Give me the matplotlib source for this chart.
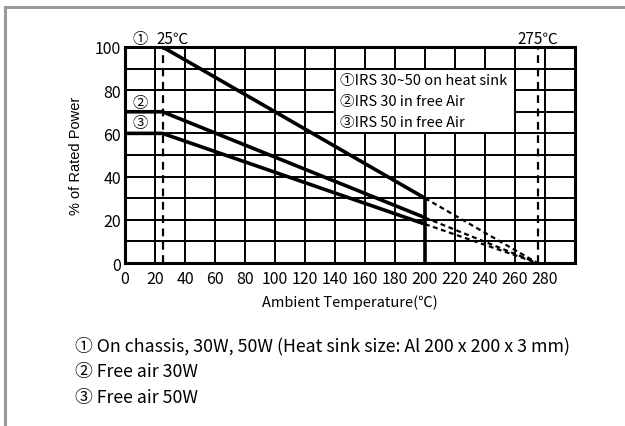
import matplotlib
matplotlib.use("Agg")
import matplotlib.pyplot as plt
from matplotlib.lines import Line2D
from matplotlib.patches import Rectangle

# ---- data ----
temp_knee = [0, 25, 200]
curve1 = [100, 100, 30]
curve2 = [70, 70, 21]
curve3 = [60, 60, 18]
temp_ext = [200, 275]
ext1 = [30, 0]
ext2 = [21, 0]
ext3 = [18, 0]
cutoff_temp = 200
marker_temps = [25, 275]
x_ticks = list(range(0, 281, 20))
y_ticks = [0, 20, 40, 60, 80, 100]
y_minor = [10, 30, 50, 70, 90]
legend_lines = ["①IRS 30~50 on heat sink", "②IRS 30 in free Air", "③IRS 50 in free Air"]
notes = ["① On chassis, 30W, 50W (Heat sink size: Al 200 x 200 x 3 mm)",
         "② Free air 30W",
         "③ Free air 50W"]

CJK = ['Noto Sans CJK KR', 'DejaVu Sans']

fig = plt.figure(figsize=(6.25, 4.27), dpi=100)
ax = fig.add_axes([0.2, 0.3817, 0.72, 0.506])
ax.set_xlim(0, 300)
ax.set_ylim(0, 100)
ax.set_xticks(x_ticks)
ax.set_yticks(y_ticks)
ax.set_yticks(y_minor, minor=True)
ax.tick_params(which='both', length=0)
ax.tick_params(axis='x', pad=5)
ax.tick_params(axis='y', pad=3)
for lab in ax.get_xticklabels() + ax.get_yticklabels():
    lab.set_family(CJK)
    lab.set_fontsize(11.5)
ax.grid(True, which='both', color='black', linewidth=1.4, zorder=1)
ax.set_axisbelow(True)
for s in ax.spines.values():
    s.set_linewidth(2.2)
    s.set_zorder(5)

# legend box (white rectangle with grid-coloured edge)
ax.add_patch(Rectangle((140, 60), 120, 30, facecolor='white', edgecolor='black',
                       linewidth=1.4, zorder=2))
for i, t in enumerate(legend_lines):
    ax.text(143.5, 84.5 - i * 9.6, t, family=CJK, fontsize=10.5,
            va='center', ha='left', zorder=3)

# solid derating curves
for c in (curve1, curve2, curve3):
    ax.plot(temp_knee, c, color='black', linewidth=2.6, zorder=4, solid_capstyle='butt')
# dotted extensions
for e in (ext1, ext2, ext3):
    ax.plot(temp_ext, e, color='black', linewidth=1.6, linestyle=(0, (2.2, 1.6)), zorder=4)
ax.vlines(cutoff_temp, 0, curve1[-1], color='black', linewidth=2.6, zorder=4)
for t in marker_temps:
    ax.axvline(t, color='black', linewidth=1.6, linestyle=(0, (3.5, 2.5)), zorder=4)

# annotations
kw = dict(family=CJK, fontsize=11)
ax.text(10, 104, "①", ha='center', va='center', clip_on=False, **kw)
ax.text(21, 104, "25℃", ha='left', va='center', clip_on=False, **kw)
ax.text(275.5, 104, "275℃", ha='center', va='center', clip_on=False, **kw)
ax.text(10, 74.5, "②", ha='center', va='center', zorder=3, **kw)
ax.text(10, 65, "③", ha='center', va='center', zorder=3, **kw)

ax.set_xlabel("Ambient Temperature(℃)", family=CJK, fontsize=10.5, labelpad=5)
ax.set_ylabel("% of Rated Power", family=['Liberation Sans', 'DejaVu Sans'], fontsize=10.5,
              labelpad=8)

for i, t in enumerate(notes):
    fig.text(75 / 625, 1 - (346 + i * 26) / 427, t, family=CJK, fontsize=12.8,
             ha='left', va='center')

# gray frame
fig.add_artist(Line2D([5 / 625, 5 / 625], [0, 1 - 8 / 427], color='#9a9a9a', linewidth=2.2,
                      transform=fig.transFigure))
fig.add_artist(Line2D([5 / 625, 1], [1 - 8 / 427, 1 - 8 / 427], color='#9a9a9a', linewidth=2.2,
                      transform=fig.transFigure))

fig.savefig("out.png", dpi=100, facecolor='white')
